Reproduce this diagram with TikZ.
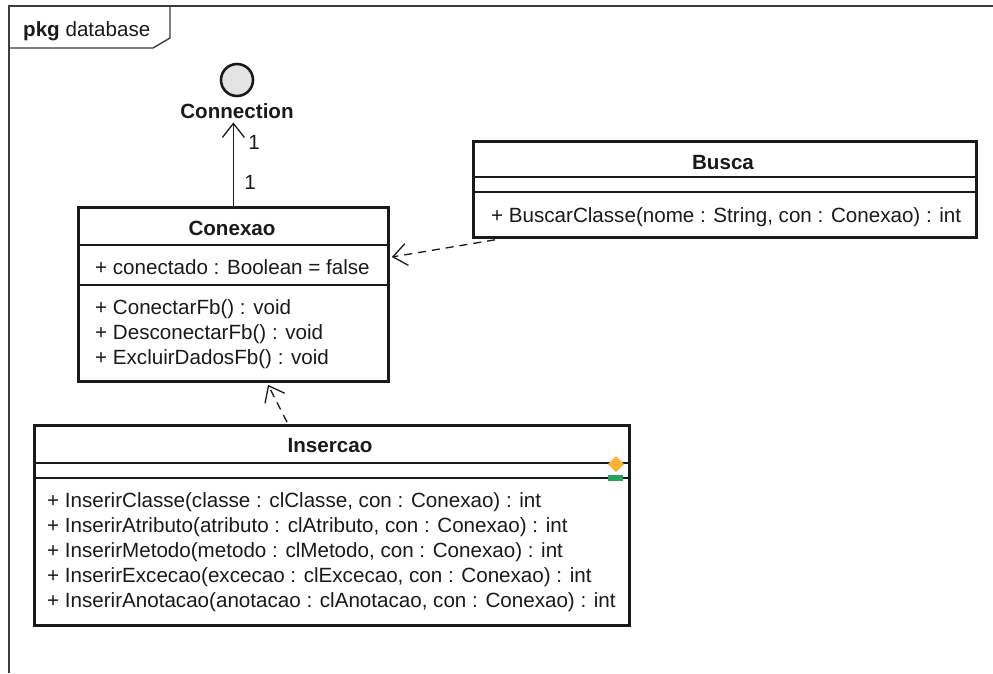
\documentclass[tikz,border=0pt]{standalone}
\usepackage{fontspec}
\setmainfont{Liberation Sans}
\usetikzlibrary{arrows.meta,calc}
\definecolor{ink}{HTML}{1A1A1A}
\definecolor{ifill}{HTML}{E4E4E4}
\definecolor{markorange}{HTML}{F9B233}
\definecolor{markgreen}{HTML}{22A45A}
\begin{document}
\begin{tikzpicture}[x=1pt,y=-1pt,
  txt/.style={font=\fontsize{20.6}{24}\selectfont, inner sep=0pt, anchor=base west, text=ink},
  ttl/.style={font=\fontsize{20.6}{24}\selectfont\bfseries, inner sep=0pt, anchor=base, text=ink},
  classbox/.style={draw=ink, line width=2.8pt, anchor=north west, inner sep=0pt, fill=white},
  sepline/.style={draw=ink, line width=1.3pt},
  openhead/.style={-{Straight Barb[length=14pt,width=22pt]}},
  dep/.style={draw=ink, line width=1.3pt, dash pattern=on 8pt off 6pt, openhead},
  assoc/.style={draw=ink, line width=1.3pt, openhead},
  framel/.style={draw=ink!85, line width=1.4pt}
]
\useasboundingbox (0,0) rectangle (993,673);

% package frame with its name tab
\draw[framel] (9,673) -- (9,6) -- (993,6);
\draw[framel] (9,48) -- (153,48) -- (170,38) -- (170,6);
\node[txt] (pkg) at (23,36) {\textbf{pkg} database};

% provided interface
\node[circle, draw=ink, line width=2.6pt, fill=ifill, minimum size=32pt, inner sep=0pt] (iface) at (237,80) {};
\node[ttl] (conn) at (237,118) {Connection};

% class Conexao
\node[classbox, minimum width=310pt, minimum height=174pt] (conexao) at (77,206) {};
\draw[sepline] ($(conexao.north west)+(0,39)$) -- ($(conexao.north east)+(0,39)$);
\draw[sepline] ($(conexao.north west)+(0,79)$) -- ($(conexao.north east)+(0,79)$);
\node[ttl] (conexaoT) at (232,235) {Conexao};
\node[txt] (conexaoA) at (95,274) {+ conectado : Boolean = false};
\node[txt] (conexaoM1) at (95,314) {+ ConectarFb() : void};
\node[txt] (conexaoM2) at (95,339) {+ DesconectarFb() : void};
\node[txt] (conexaoM3) at (95,364) {+ ExcluirDadosFb() : void};

% class Busca
\node[classbox, minimum width=503pt, minimum height=96pt] (busca) at (472,140) {};
\draw[sepline] ($(busca.north west)+(0,37)$) -- ($(busca.north east)+(0,37)$);
\draw[sepline] ($(busca.north west)+(0,52)$) -- ($(busca.north east)+(0,52)$);
\node[ttl] (buscaT) at (723,169) {Busca};
\node[txt] (buscaM1) at (491,222) {+ BuscarClasse(nome : String, con : Conexao) : int};

% class Insercao
\node[classbox, minimum width=595pt, minimum height=200pt] (insercao) at (33,424) {};
\draw[sepline] ($(insercao.north west)+(0,39)$) -- ($(insercao.north east)+(0,39)$);
\draw[sepline] ($(insercao.north west)+(0,54)$) -- ($(insercao.north east)+(0,54)$);
\node[ttl] (insercaoT) at (330,452) {Insercao};
\node[txt] (insercaoM1) at (47,507) {+ InserirClasse(classe : clClasse, con : Conexao) : int};
\node[txt] (insercaoM2) at (47,532) {+ InserirAtributo(atributo : clAtributo, con : Conexao) : int};
\node[txt] (insercaoM3) at (47,557) {+ InserirMetodo(metodo : clMetodo, con : Conexao) : int};
\node[txt] (insercaoM4) at (47,582) {+ InserirExcecao(excecao : clExcecao, con : Conexao) : int};
\node[txt] (insercaoM5) at (47,607) {+ InserirAnotacao(anotacao : clAnotacao, con : Conexao) : int};

% compartment markers on Insercao
\fill[markorange] (616,456) -- (624,464) -- (616,472) -- (608,464) -- cycle;
\fill[markgreen] (608,475) rectangle (623,481);

% association Conexao -> Connection
\draw[assoc] (conexao.north) -- ($(conexao.north |- conn.south)+(0,4)$);
\node[txt, anchor=center] (mult1) at (254,142) {1};
\node[txt, anchor=center] (mult2) at (250,182) {1};

% dependencies
\coordinate (buscaOut) at ($(busca.south west)+(23,1)$);
\coordinate (conexaoIn) at ($(conexao.north east)+(2,51)$);
\draw[dep] (buscaOut) -- (conexaoIn);
\coordinate (insercaoOut) at ($(insercao.north west)+(254,-2)$);
\coordinate (conexaoIn2) at ($(conexao.south west)+(191,2)$);
\draw[dep] (insercaoOut) -- (conexaoIn2);
\end{tikzpicture}
\end{document}
